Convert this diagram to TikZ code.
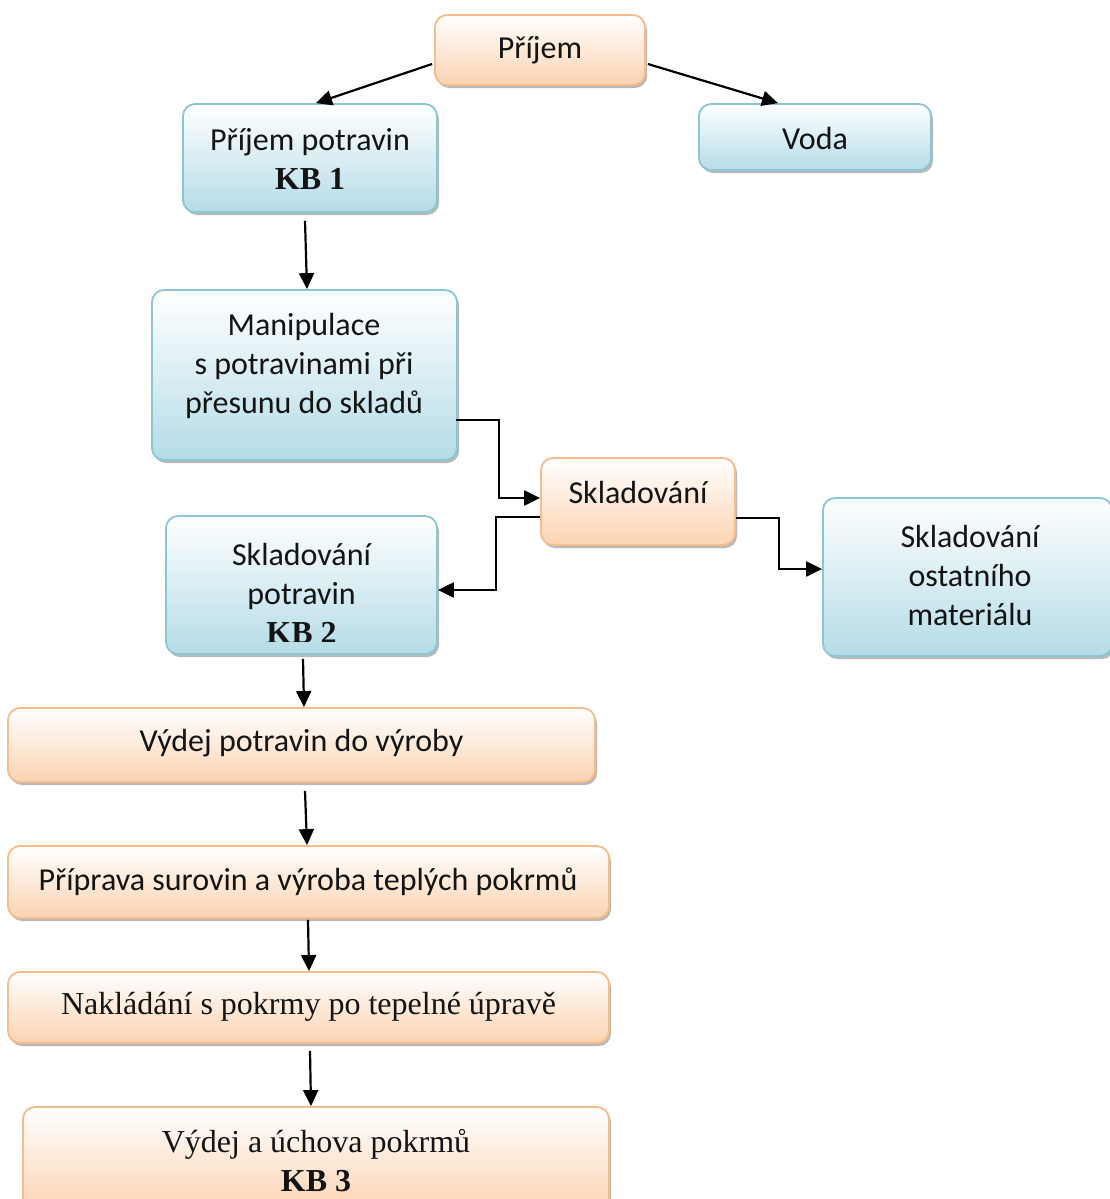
\documentclass[tikz,border=0pt]{standalone}
\usepackage{fontspec}
\setmainfont{Carlito}
\newfontfamily\timesfont{Liberation Serif}
\usetikzlibrary{arrows.meta,shadows}

\definecolor{oborder}{HTML}{F6BC8A}
\definecolor{ofill}{HTML}{FBD3B2}
\definecolor{bborder}{HTML}{8CC6D6}
\definecolor{bfill}{HTML}{B5DCE7}
\definecolor{ink}{HTML}{141414}

\tikzset{
  box/.style={rounded corners=12pt, line width=1.8pt, inner sep=0pt,
    drop shadow={shadow xshift=2pt, shadow yshift=-3pt, fill=black, opacity=0.28}},
  obox/.style={box, draw=oborder, top color=white, bottom color=ofill},
  bbox/.style={box, draw=bborder, top color=white, bottom color=bfill},
  lbl/.style={align=center, text=ink, inner sep=0pt,
    font=\fontsize{32}{39}\selectfont},
  slbl/.style={lbl, font=\fontsize{32}{39}\selectfont\timesfont},
  arr/.style={line width=2.2pt, draw=black, -{Triangle[length=16pt,width=15pt]}}
}
\newcommand{\kbmark}[1]{{\timesfont\bfseries KB #1}}

\begin{document}
\begin{tikzpicture}[x=1pt,y=-1pt]
\useasboundingbox (0,0) rectangle (1110,1199);

% boxes
\node[obox, minimum width=210, minimum height=70] (prijem) at (540,50) {};
\node[bbox, minimum width=254, minimum height=108] (potr) at (310,158) {};
\node[bbox, minimum width=232, minimum height=66] (voda) at (815,137) {};
\node[bbox, minimum width=305, minimum height=170] (manip) at (304.5,375) {};
\node[obox, minimum width=194, minimum height=87] (sklad) at (638,501.5) {};
\node[bbox, minimum width=271, minimum height=138] (kb2) at (301.5,585) {};
\node[bbox, minimum width=289, minimum height=158] (ostat) at (967.5,577) {};
\node[obox, minimum width=587, minimum height=74] (vydej) at (301.5,745) {};
\node[obox, minimum width=601, minimum height=72] (prip) at (308.5,882) {};
\node[obox, minimum width=601, minimum height=71] (nakl) at (308.5,1007.5) {};
\node[obox, minimum width=586, minimum height=106] (uchova) at (316,1160) {};

% labels
\node[lbl] (tprijem) at (540,50) {Příjem};
\node[lbl] (tpotr) at (310,159) {Příjem potravin\\\kbmark{1}};
\node[lbl] (tvoda) at (815,139) {Voda};
\node[lbl] (tmanip) at (304,366) {Manipulace\\s potravinami při\\přesunu do skladů};
\node[lbl] (tsklad) at (638,492.5) {Skladování};
\begin{scope}
  \clip[rounded corners=12pt] (166,516) rectangle (437,641);
  \node[lbl] (tkb2) at (301.5,593) {Skladování\\potravin\\\kbmark{2}};
\end{scope}
\node[lbl] (tostat) at (970,575.5) {Skladování\\ostatního\\materiálu};
\node[lbl] (tvydej) at (301.5,743.5) {Výdej potravin do výroby};
\node[lbl] (tprip) at (308,881.5) {Příprava surovin a výroba teplých pokrmů};
\node[slbl] (tnakl) at (308.5,1006.5) {Nakládání s pokrmy po tepelné úpravě};
\node[slbl] (tuchova) at (316,1161) {Výdej a úchova pokrmů\\\kbmark{3}};

% connectors
\draw[arr] ([xshift=-2pt,yshift=-14pt]prijem.west) -- ([xshift=6pt]potr.north);
\draw[arr] ([xshift=2pt,yshift=-14pt]prijem.east) -- ([xshift=-37pt]voda.north);
\draw[arr] ([xshift=-5pt,yshift=-8pt]potr.south) -- ([xshift=2.5pt]manip.north);
\draw[arr] ([xshift=-2pt,yshift=-45pt]manip.east) -- ++(43,0) |- ([yshift=3.5pt]sklad.west);
\draw[arr] ([yshift=-15.5pt]sklad.west) -- ++(-44,0) |- ([yshift=-5pt]kb2.east);
\draw[arr] ([yshift=-16.5pt]sklad.east) -- ++(43,0) |- ([yshift=8pt]ostat.west);
\draw[arr] ([xshift=1.5pt,yshift=-4pt]kb2.south) -- ([xshift=2.5pt]vydej.north);
\draw[arr] ([xshift=3.5pt,yshift=-8pt]vydej.south) -- ([xshift=-1.5pt]prip.north);
\draw[arr] ([xshift=-0.5pt,yshift=-1pt]prip.south) -- ([xshift=0.5pt]nakl.north);
\draw[arr] ([xshift=1.5pt,yshift=-7pt]nakl.south) -- ([xshift=-5pt]uchova.north);
\end{tikzpicture}
\end{document}
